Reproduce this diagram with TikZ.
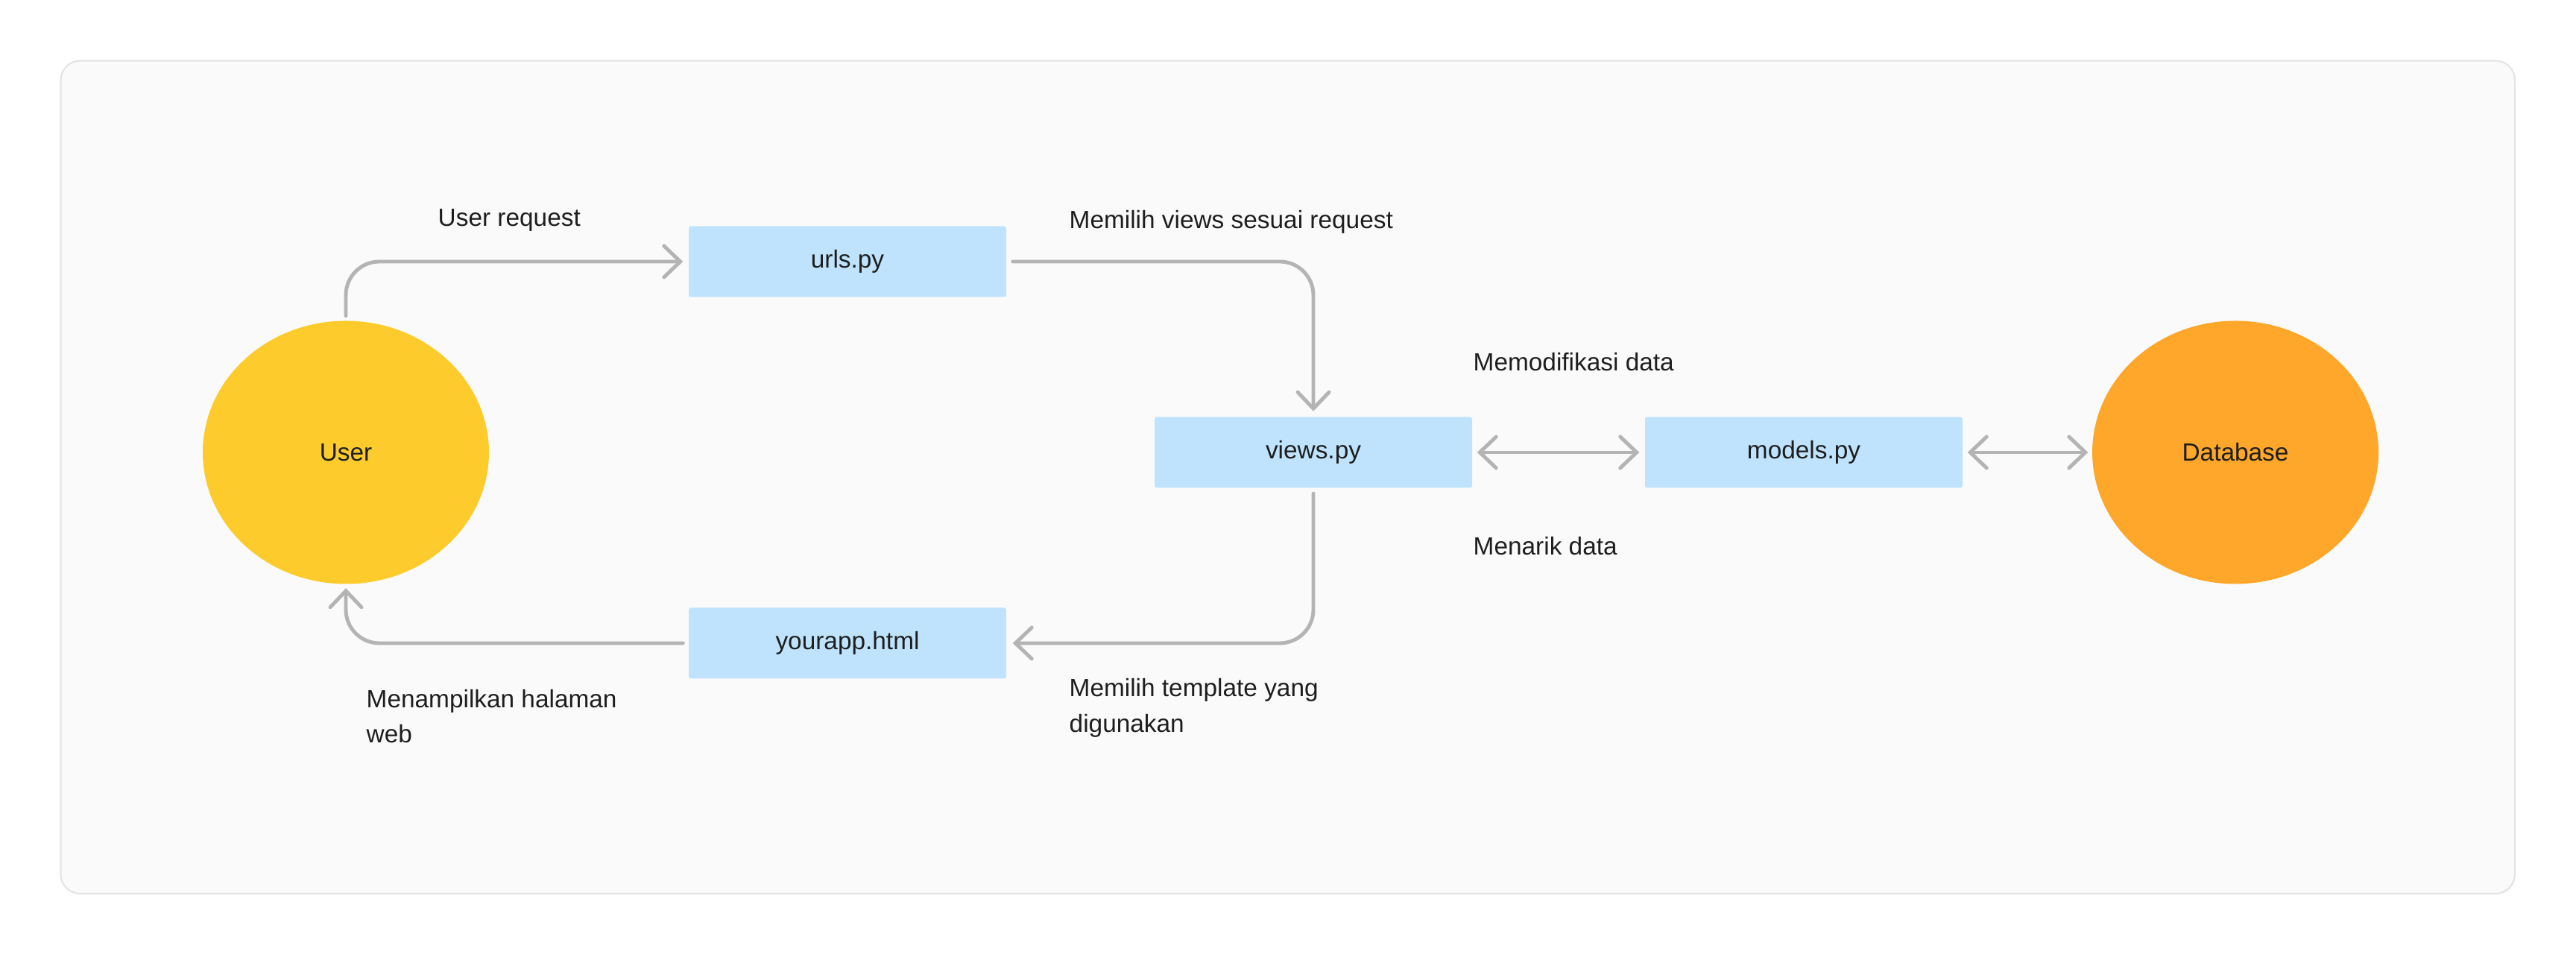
\documentclass[tikz,border=0pt]{standalone}
\usepackage{fontspec}
\setmainfont{Liberation Sans}
\usetikzlibrary{arrows.meta,shapes.geometric}
\definecolor{boxblue}{RGB}{191,227,253}
\definecolor{useryellow}{RGB}{253,204,44}
\definecolor{dborange}{RGB}{254,167,42}
\definecolor{linegray}{RGB}{180,180,180}
\definecolor{framegray}{RGB}{228,228,228}
\definecolor{panel}{RGB}{250,250,250}
\definecolor{ink}{RGB}{30,30,30}

\begin{document}
\begin{tikzpicture}[
    every node/.style={font=\fontsize{9.5}{13.6}\selectfont, text=ink},
    filebox/.style={fill=boxblue, rounded corners=0.03cm, minimum width=4.26cm, minimum height=0.95cm, inner sep=0pt},
    actor/.style={ellipse, minimum width=3.84cm, minimum height=3.53cm, inner sep=0pt},
    lbl/.style={anchor=west, align=left, inner sep=0pt},
    flow/.style={draw=linegray, line width=1.4pt, line cap=round, rounded corners=0.45cm,
        -{Straight Barb[length=0.22cm, width=0.42cm, line cap=round]}},
    both/.style={flow, {Straight Barb[length=0.22cm, width=0.42cm, line cap=round]}-{Straight Barb[length=0.22cm, width=0.42cm, line cap=round]}}
]
\useasboundingbox[fill=white] (0,0) rectangle (34.56,12.8);
\draw[fill=panel, draw=framegray, line width=0.6pt, rounded corners=0.26cm] (0.815,0.81) rectangle (33.74,11.985);

\node[actor, fill=useryellow] (user) at (4.64,6.73) {User};
\node[actor, fill=dborange] (db) at (29.99,6.73) {Database};
\node[filebox] (urls) at (11.37,9.29) {urls.py};
\node[filebox] (views) at (17.62,6.73) {views.py};
\node[filebox] (models) at (24.20,6.73) {models.py};
\node[filebox] (html) at (11.37,4.17) {yourapp.html};

\node[lbl] (lreq) at (5.87,9.84) {User request};
\node[lbl] (lviews) at (14.34,9.82) {Memilih views sesuai request};
\node[lbl] (lmod) at (19.76,7.94) {Memodifikasi data};
\node[lbl] (ltarik) at (19.76,5.47) {Menarik data};
\node[lbl] (ltmpl) at (14.34,3.30) {Memilih template yang\\digunakan};
\node[lbl] (lshow) at (4.91,3.19) {Menampilkan halaman\\web};

\draw[flow] ([yshift=0.06cm]user.north) |- ([xshift=-0.07cm]urls.west);
\draw[flow] ([xshift=0.08cm]urls.east) -| ([yshift=0.07cm]views.north);
\draw[flow] ([yshift=-0.07cm]views.south) |- ([xshift=0.08cm]html.east);
\draw[flow] ([xshift=-0.07cm]html.west) -| ([yshift=-0.05cm]user.south);
\draw[both] ([xshift=0.06cm]views.east) -- ([xshift=-0.07cm]models.west);
\draw[both] ([xshift=0.06cm]models.east) -- ([xshift=-0.05cm]db.west);
\end{tikzpicture}
\end{document}
